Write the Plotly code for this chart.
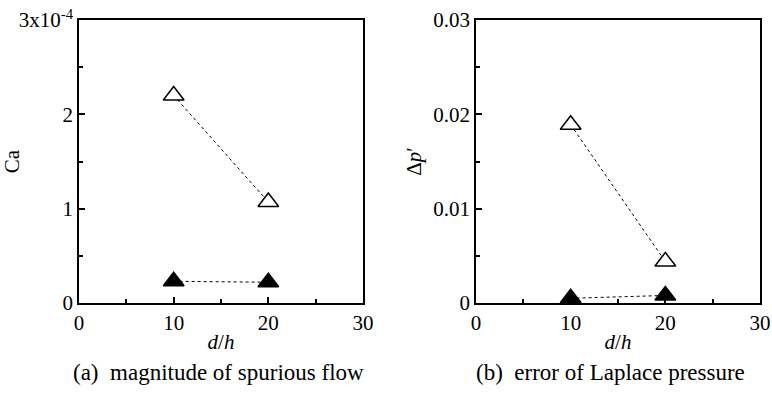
import plotly.graph_objects as go

d_h = [10, 20]
ca_open = [2.2e-4, 1.07e-4]
ca_filled = [0.23e-4, 0.22e-4]
dp_open = [0.0189, 0.0044]
dp_filled = [0.0005, 0.0008]

x_ticks = [0, 10, 20, 30]
ca_ticks = [0, 1e-4, 2e-4, 3e-4]
ca_ticktext = ["0", "1", "2", "3x10<sup>-4</sup>"]
dp_ticks = [0, 0.01, 0.02, 0.03]
dp_ticktext = ["0", "0.01", "0.02", "0.03"]

FONT = "Liberation Serif"
FS = 21
FC = 23
fig = go.Figure()

def add(x, y, filled, xa, ya):
    fig.add_trace(go.Scatter(
        x=x, y=y, xaxis=xa, yaxis=ya, mode="lines+markers",
        line=dict(color="black", width=1, dash="dot"),
        marker=dict(symbol="triangle-up", size=18,
                    color="black" if filled else "white",
                    line=dict(color="black", width=1.5)),
        showlegend=False, cliponaxis=False))

add(d_h, ca_open, False, "x", "y")
add(d_h, ca_filled, True, "x", "y")
add(d_h, dp_open, False, "x2", "y2")
add(d_h, dp_filled, True, "x2", "y2")

common_x = dict(range=[0, 30], tickvals=x_ticks, ticks="inside", ticklen=6,
                tickwidth=1.5, tickcolor="black", showline=True, linecolor="black",
                linewidth=1.5, mirror=True, showgrid=False, zeroline=False,
                automargin=False,
                tickfont=dict(family=FONT, size=FS, color="black"),
                minor=dict(tickvals=[5, 15, 25], ticks="inside", ticklen=4,
                           tickwidth=1.5, tickcolor="black"),
                title=dict(text="<i>d</i>/<i>h</i>", font=dict(family=FONT, size=FS, color="black"),
                           standoff=0))
common_y = dict(ticks="inside", ticklen=6, tickwidth=1.5, tickcolor="black",
                showline=True, linecolor="black", linewidth=1.5, mirror=True,
                showgrid=False, zeroline=False, automargin=False,
                tickfont=dict(family=FONT, size=FS, color="black"))

fig.update_layout(
    width=772, height=394, margin=dict(l=0, r=0, t=0, b=0),
    plot_bgcolor="white", paper_bgcolor="white",
    font=dict(family=FONT, size=FS, color="black"),
    xaxis=dict(domain=[79/772, 363/772], anchor="y", **common_x),
    xaxis2=dict(domain=[476/772, 760/772], anchor="y2", **common_x),
    yaxis=dict(domain=[91/394, 374/394], anchor="x", range=[0, 3e-4],
               tickvals=ca_ticks, ticktext=ca_ticktext,
               minor=dict(tickvals=[0.5e-4, 1.5e-4, 2.5e-4], ticks="inside", ticklen=4,
                          tickwidth=1.5, tickcolor="black"),
               title=dict(text="Ca", font=dict(family=FONT, size=FS, color="black"), standoff=20),
               **common_y),
    yaxis2=dict(domain=[91/394, 374/394], anchor="x2", range=[0, 0.03],
                tickvals=dp_ticks, ticktext=dp_ticktext,
                minor=dict(tickvals=[0.005, 0.015, 0.025], ticks="inside", ticklen=4,
                           tickwidth=1.5, tickcolor="black"),
                title=dict(text="Δ<i>p</i>′", font=dict(family=FONT, size=FS, color="black"), standoff=6),
                **common_y),
    annotations=[
        dict(text="(a)\u00a0\u00a0magnitude of spurious flow", x=218/772, y=22/394,
             xref="paper", yref="paper", showarrow=False, xanchor="center", yanchor="middle",
             font=dict(family=FONT, size=FC, color="black")),
        dict(text="(b)\u00a0\u00a0error of Laplace pressure", x=610/772, y=22/394,
             xref="paper", yref="paper", showarrow=False, xanchor="center", yanchor="middle",
             font=dict(family=FONT, size=FC, color="black")),
    ],
)

fig.write_html("out.html")
